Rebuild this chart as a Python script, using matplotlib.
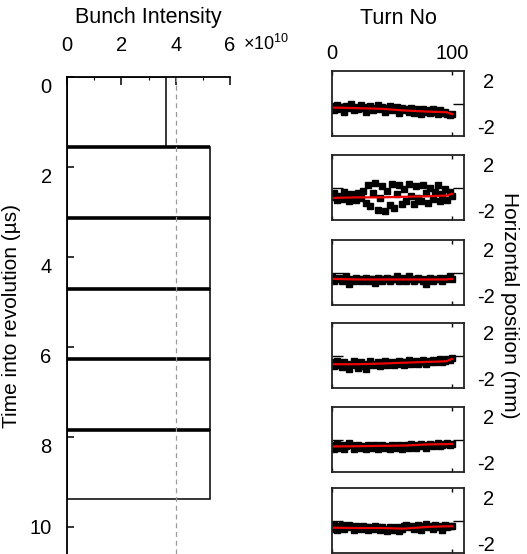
import matplotlib
matplotlib.use('Agg')
import matplotlib.pyplot as plt
import matplotlib.transforms as mtransforms
import numpy as np

plt.rcParams['font.family'] = ['Liberation Sans', 'DejaVu Sans']
plt.rcParams['mathtext.fontset'] = 'custom'
plt.rcParams['mathtext.rm'] = 'Liberation Sans'

# left panel: bunch intensity (x10^10) per bunch, time slot in us
bunch_start = [0.0, 1.55, 3.13, 4.70, 6.27, 7.84]
bunch_end = [1.55, 3.13, 4.70, 6.27, 7.84, 9.38]
bunch_intensity = [3.64, 5.26, 5.26, 5.26, 5.26, 5.26]
threshold = 4.0

# right panels: horizontal position (mm) vs turn number, one list per bunch
turns = np.arange(0, 101, 2)
pos1 = [-0.2, -0.6, -0.1, -0.5, -0.3, -0.7, -0.2, -0.4, 0.0, -0.6,
        -0.3, -0.5, -0.1, -0.4, -0.7, -0.3, -0.2, -0.6, -0.4, -0.1,
        -0.5, -0.3, -0.7, -0.4, -0.2, -0.6, -0.5, -0.3, -0.8, -0.4,
        -0.6, -0.5, -0.7, -0.4, -0.8, -0.5, -0.6, -0.9, -0.5, -0.7,
        -0.6, -0.8, -0.5, -0.7, -0.9, -0.6, -0.8, -0.7, -0.9, -1.0,
        -0.9]
pos2 = [-0.8, -0.5, -1.1, -0.7, -1.0, -0.4, -0.9, -1.2, -0.6, -0.8,
        -1.1, -0.5, -0.9, -0.3, -1.3, 0.2, -1.6, -0.5, 0.4, -1.9,
        -0.9, 0.1, -2.0, -0.3, -1.5, 0.3, -1.8, -0.6, 0.2, -1.4,
        -0.1, -1.2, 0.3, -0.7, -1.4, 0.1, -0.9, -1.2, 0.2, -0.5,
        -1.3, 0.0, -1.0, -0.4, 0.2, -1.2, -0.6, -0.1, -1.1, -0.4,
        -0.7]
pos3 = [-0.4, -0.7, -0.6, -0.5, -0.7, -0.6, -0.3, -1.0, -0.6, -0.7,
        -0.5, -0.6, -0.7, -0.6, -0.5, -0.7, -0.6, -0.6, -0.9, -0.5,
        -0.6, -0.7, -0.6, -0.5, -0.7, -0.6, -0.6, -0.3, -0.7, -0.6,
        -0.5, -0.7, -0.3, -0.6, -0.7, -0.6, -0.5, -0.6, -0.7, -1.0,
        -0.6, -0.5, -0.7, -0.6, -0.6, -0.5, -0.7, -0.6, -0.5, -0.3,
        -0.6]
pos4 = [-0.6, -0.9, -0.5, -0.8, -1.0, -0.6, -0.9, -1.2, -0.7, -0.5,
        -0.8, -1.1, -0.6, -0.9, -1.2, -0.7, -0.5, -0.8, -0.7, -0.6,
        -0.9, -0.7, -0.5, -0.8, -0.7, -0.6, -0.8, -0.7, -0.5, -0.6,
        -0.8, -0.6, -0.4, -0.7, -0.6, -0.5, -0.7, -0.6, -0.4, -0.7,
        -0.5, -0.6, -0.4, -0.6, -0.5, -0.3, -0.6, -0.5, -0.3, -0.4,
        -0.2]
pos5 = [-0.5, -0.8, -0.4, -0.7, -0.5, -0.8, -0.6, -0.3, -0.5, -0.8,
        -0.6, -0.5, -0.7, -0.6, -0.8, -0.5, -0.6, -0.7, -0.5, -0.8,
        -0.6, -0.5, -0.7, -0.6, -0.8, -0.5, -0.6, -0.7, -0.5, -0.8,
        -0.6, -0.5, -0.7, -0.4, -0.6, -0.7, -0.5, -0.4, -0.6, -0.7,
        -0.5, -0.4, -0.6, -0.5, -0.3, -0.6, -0.5, -0.4, -0.3, -0.5,
        -0.4]
pos6 = [-0.7, -0.4, -0.8, -0.5, -0.4, -0.7, -0.5, -0.4, -0.6, -0.8,
        -0.5, -0.6, -0.7, -0.5, -0.6, -0.8, -0.6, -0.7, -0.5, -0.6,
        -0.8, -0.6, -0.7, -0.9, -0.6, -0.7, -0.8, -0.6, -0.9, -0.7,
        -0.5, -0.4, -0.6, -0.5, -0.7, -0.6, -0.4, -0.8, -0.5, -0.3,
        -0.6, -0.5, -0.7, -0.4, -0.6, -0.5, -0.8, -0.4, -0.6, -0.5,
        -0.5]
positions = [pos1, pos2, pos3, pos4, pos5, pos6]

# smoothed fits (red lines)
fit_turns = [0, 20, 40, 60, 80, 95, 100]
fits = [
    [-0.35, -0.4, -0.45, -0.6, -0.7, -0.75, -0.9],
    [-0.9, -0.85, -0.85, -0.8, -0.75, -0.7, -0.55],
    [-0.55, -0.6, -0.6, -0.6, -0.6, -0.6, -0.55],
    [-0.75, -0.75, -0.7, -0.62, -0.55, -0.5, -0.3],
    [-0.6, -0.58, -0.55, -0.52, -0.42, -0.4, -0.38],
    [-0.62, -0.65, -0.65, -0.7, -0.55, -0.5, -0.5],
]

W, H = 527, 554
fig = plt.figure(figsize=(W / 100, H / 100), dpi=100)

# ---- left panel ----
ax = fig.add_axes([67 / W, 0, 163 / W, (H - 77) / H])
for s, e, v in zip(bunch_start, bunch_end, bunch_intensity):
    ax.barh(s, v, height=e - s, align='edge', color='white', edgecolor='black', linewidth=1.1)
ax.hlines(bunch_start[1:], 0, bunch_intensity[1:], colors='black', linewidth=2.6)
ax.axvline(threshold, color='#999999', linestyle=(0, (4, 3)), linewidth=0.9)
ax.set_xlim(0, 6)
ax.set_ylim((H - 77) / 45, 0)
ax.xaxis.tick_top()
ax.set_xticks([0, 2, 4, 6])
ax.set_xticks([1, 3, 5], minor=True)
ax.set_yticks([0, 2, 4, 6, 8, 10])
ax.tick_params(axis='x', which='major', direction='in', length=6, width=1.1, pad=16, labelsize=14.5)
ax.tick_params(axis='x', which='minor', direction='in', length=2.5, width=0.8)
ax.tick_params(axis='y', direction='in', length=5, width=1.1, pad=11, labelsize=14.5)
# y labels sit a little below their ticks in the original
shift = mtransforms.ScaledTranslation(0, -6 / 72, fig.dpi_scale_trans)
for lbl in ax.get_yticklabels()[:-1]:
    lbl.set_transform(lbl.get_transform() + shift)
for side in ['right', 'bottom']:
    ax.spines[side].set_visible(False)
for side in ['left', 'top']:
    ax.spines[side].set_linewidth(1.3)
ax.set_ylabel('Time into revolution (µs)', fontsize=15, labelpad=6)
fig.text(148 / W, 1 - 18 / H, 'Bunch Intensity', fontsize=15.5, ha='center', va='center')
fig.text(243 / W, 1 - 44 / H, '×10$^{10}$', fontsize=13, ha='left', va='center')

# ---- right panels ----
tops = [71, 155, 240, 323, 407, 488]
for i, (top, pos, fit) in enumerate(zip(tops, positions, fits)):
    a = fig.add_axes([332 / W, (H - top - 65) / H, 132 / W, 65 / H])
    a.plot(turns, pos, linestyle='none', marker='s', markersize=4.2, color='black')
    a.plot(fit_turns, fit, color='#ee0000', linewidth=1.6)
    a.set_xlim(0, 110)
    a.set_ylim(-2.8, 2.8)
    a.set_yticks([-2, 0, 2], ['-2', '', '2'])
    a.yaxis.tick_right()
    a.tick_params(axis='y', which='both', left=True, right=True, direction='in',
                  length=8, width=1.0, pad=22, labelsize=14.5)
    for lbl in a.get_yticklabels():
        lbl.set_horizontalalignment('right')
    for k in [0, 2]:
        t = a.yaxis.get_major_ticks()[k]
        t.tick1line.set_visible(False)
        t.tick2line.set_visible(False)
    a.set_xticks([0, 100])
    a.tick_params(axis='x', which='both', top=True, bottom=True, direction='in',
                  length=3, width=1.0, labelsize=14.5, pad=6)
    if i == 0:
        a.tick_params(axis='x', labeltop=True, labelbottom=False)
    else:
        a.tick_params(axis='x', labeltop=False, labelbottom=False)
    for sp in a.spines.values():
        sp.set_linewidth(1.3)
        sp.set_color('#222222')

fig.text(398 / W, 1 - 18 / H, 'Turn No', fontsize=15.5, ha='center', va='center')
fig.text(509 / W, 1 - 305 / H, 'Horizontal position (mm)', fontsize=15,
         rotation=270, ha='center', va='center')

fig.savefig('out.png', dpi=100)
